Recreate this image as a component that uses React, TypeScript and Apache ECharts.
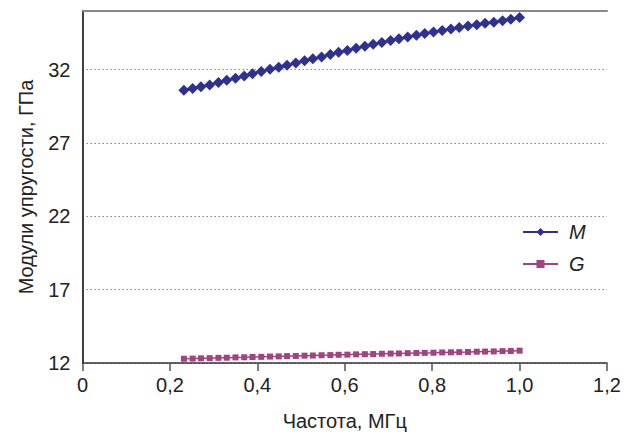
import React, { useEffect, useRef } from "react";
import * as echarts from "echarts";

const freq = [0.232, 0.252, 0.271, 0.291, 0.311, 0.330, 0.350, 0.370, 0.389, 0.409,
  0.429, 0.449, 0.468, 0.488, 0.508, 0.527, 0.547, 0.567, 0.586, 0.606,
  0.626, 0.646, 0.665, 0.685, 0.705, 0.724, 0.744, 0.764, 0.783, 0.803,
  0.823, 0.843, 0.862, 0.882, 0.902, 0.921, 0.941, 0.961, 0.980, 1.000];

const mValues = [30.60, 30.71, 30.83, 30.96, 31.12, 31.27, 31.41, 31.56, 31.72, 31.88,
  32.03, 32.16, 32.30, 32.45, 32.60, 32.74, 32.87, 33.03, 33.18, 33.31,
  33.46, 33.59, 33.73, 33.86, 33.99, 34.11, 34.23, 34.35, 34.46, 34.57,
  34.67, 34.78, 34.88, 34.98, 35.07, 35.16, 35.24, 35.33, 35.43, 35.55];

const gValues = [12.29, 12.30, 12.32, 12.33, 12.35, 12.36, 12.38, 12.39, 12.41, 12.42,
  12.44, 12.45, 12.47, 12.48, 12.50, 12.51, 12.53, 12.54, 12.56, 12.57,
  12.59, 12.60, 12.61, 12.63, 12.64, 12.65, 12.67, 12.68, 12.69, 12.70,
  12.72, 12.73, 12.74, 12.75, 12.77, 12.78, 12.79, 12.81, 12.82, 12.84];

const xTicks = [0, 0.2, 0.4, 0.6, 0.8, 1.0, 1.2];
const yTicks = [12, 17, 22, 27, 32];

const FONT = "Liberation Sans, Arial, sans-serif";
const FS = 20;

export default function App() {
  const ref = useRef<HTMLDivElement>(null);
  useEffect(() => {
    if (!ref.current) return;
    const chart = echarts.init(ref.current, null, { renderer: "svg" });
    const fmtX = (v: number) => (v === 0 ? "0" : v.toFixed(1).replace(".", ","));
    chart.setOption({
      animation: false,
      backgroundColor: "#ffffff",
      grid: { left: 82.5, right: 25, top: 11, bottom: 71 },
      legend: {
        orient: "vertical",
        left: 522,
        top: 222,
        padding: 0,
        itemWidth: 35,
        itemHeight: 10,
        itemGap: 12,
        textStyle: {
          fontFamily: FONT,
          fontSize: FS,
          fontStyle: "italic",
          color: "#222",
          padding: [0, 0, 0, 6],
        },
        data: ["M", "G"],
      },
      xAxis: [
        {
          type: "value",
          min: xTicks[0],
          max: xTicks[xTicks.length - 1],
          interval: 0.2,
          name: "Частота, МГц",
          nameLocation: "middle",
          nameGap: 48,
          nameTextStyle: { fontFamily: FONT, fontSize: FS, color: "#222" },
          axisLine: { show: true, onZero: false, lineStyle: { color: "#333", width: 1.5 } },
          axisTick: { show: true, length: 8, lineStyle: { color: "#555", width: 1.5 } },
          axisLabel: { formatter: fmtX, fontFamily: FONT, fontSize: FS, color: "#222", margin: 12 },
          splitLine: { show: false },
        },
        {
          type: "value",
          position: "top",
          min: 0,
          max: 1.2,
          axisLine: { show: true, lineStyle: { color: "#888", width: 2 } },
          axisTick: { show: false },
          axisLabel: { show: false },
          splitLine: { show: false },
        },
      ],
      yAxis: [
        {
          type: "value",
          min: yTicks[0],
          max: 36,
          interval: 5,
          name: "Модули упругости, ГПа",
          nameLocation: "middle",
          nameGap: 47,
          nameTextStyle: { fontFamily: FONT, fontSize: FS, color: "#222" },
          axisLine: { show: true, onZero: false, lineStyle: { color: "#333", width: 1.5 } },
          axisTick: { show: false },
          axisLabel: {
            fontFamily: FONT,
            fontSize: FS,
            color: "#222",
            margin: 12,
            showMaxLabel: false,
            formatter: (v: number) => (yTicks.indexOf(v) >= 0 ? String(v) : ""),
          },
          splitLine: {
            show: true,
            lineStyle: { color: "#888", type: [1.5, 2.5], width: 1 },
          },
        },
        {
          type: "value",
          position: "right",
          min: 12,
          max: 36,
          axisLine: { show: true, lineStyle: { color: "#333", width: 1.5 } },
          axisTick: { show: false },
          axisLabel: { show: false },
          splitLine: { show: false },
        },
      ],
      series: [
        {
          name: "M",
          type: "line",
          data: freq.map((f, i) => [f, mValues[i]]),
          symbol: "diamond",
          symbolSize: 11,
          itemStyle: { color: "#2E3192" },
          lineStyle: { color: "#2E3192", width: 1.5 },
        },
        {
          name: "G",
          type: "line",
          data: freq.map((f, i) => [f, gValues[i]]),
          symbol: "rect",
          symbolSize: 6,
          itemStyle: { color: "#A4427F" },
          lineStyle: { color: "#A4427F", width: 1.5 },
        },
      ],
    });
    return () => chart.dispose();
  }, []);
  return <div ref={ref} style={{ width: 632, height: 436, position: "absolute", left: 0, top: 0 }} />;
}
